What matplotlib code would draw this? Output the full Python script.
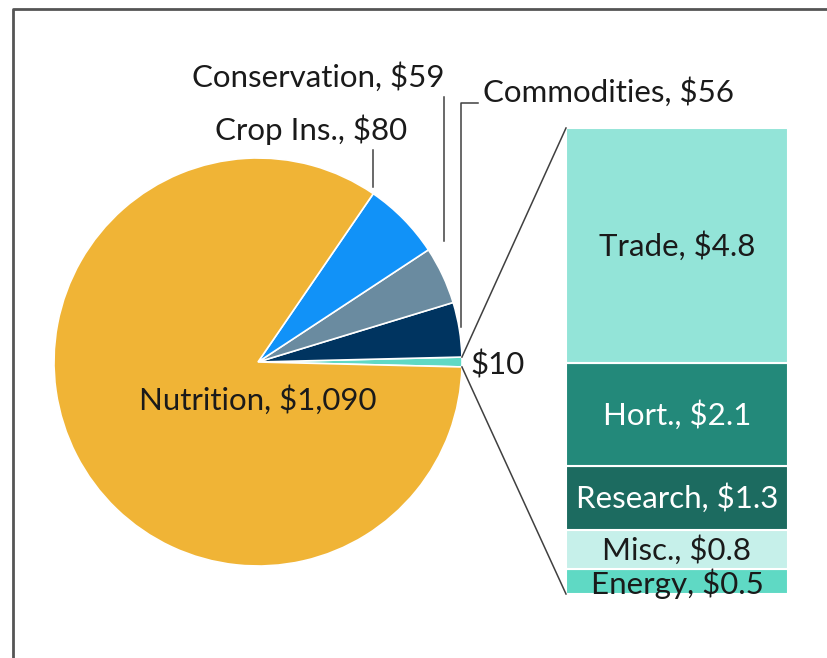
import numpy as np
import matplotlib
matplotlib.use("Agg")
import matplotlib.pyplot as plt

# pie: $ billions
pie_labels = ["Other", "Commodities", "Conservation", "Crop Ins.", "Nutrition"]
pie_values = [10, 56, 59, 80, 1090]
pie_colors = ["#5fd9c4", "#003460", "#6a8ba0", "#1192f8", "#f0b436"]

# breakout of "Other", top to bottom
bar_labels = ["Trade", "Hort.", "Research", "Misc.", "Energy"]
bar_values = [4.8, 2.1, 1.3, 0.8, 0.5]
bar_colors = ["#93e4d8", "#23897a", "#1c6b60", "#c6f0ea", "#5fd9c4"]
bar_text = ["#1a1a1a", "white", "white", "#1a1a1a", "#1a1a1a"]

W, H = 827, 658
FONT = "Lato"
FS = 22.5


def Y(y):
    return H - y


def main():
    fig = plt.figure(figsize=(W / 100, H / 100), dpi=100)
    ax = fig.add_axes([0, 0, 1, 1])

    # chart frame (only left and top edges show)
    ax.plot([13, 13, W + 5], [-5, Y(9), Y(9)], color="#555555", lw=2)

    cx, cy, r = 258, Y(362), 204
    total = sum(pie_values)
    start = -pie_values[0] / total * 360 / 2
    ax.pie(pie_values, colors=pie_colors, startangle=start, counterclock=True,
           center=(cx, cy), radius=r, frame=True,
           wedgeprops=dict(edgecolor="white", linewidth=1.2))
    ax.set_xlim(0, W)
    ax.set_ylim(0, H)
    ax.axis("off")

    # stacked bar for "Other"
    bx, bw = 677, 222
    scale = 466 / sum(bar_values)
    bottom = Y(594)
    for lab, v, c, tc in list(zip(bar_labels, bar_values, bar_colors, bar_text))[::-1]:
        h = v * scale
        ax.bar(bx, h, width=bw, bottom=bottom, color=c, edgecolor="white", linewidth=1.5)
        ty = bottom + h / 2
        if lab == "Energy":
            ty = bottom + h / 2 - 2
        ax.text(bx, ty, f"{lab}, ${v}", ha="center", va="center",
                fontsize=FS, color=tc, family=FONT)
        bottom += h
    bar_top = bottom

    # connector lines from the "Other" slice to the bar
    a = np.deg2rad(abs(start))
    ax.plot([cx + r * np.cos(a), bx - bw / 2], [cy + r * np.sin(a), bar_top],
            color="#404040", lw=1.1)
    ax.plot([cx + r * np.cos(a), bx - bw / 2], [cy - r * np.sin(a), Y(594)],
            color="#404040", lw=1.1)

    # labels
    tk = dict(fontsize=FS, color="#1a1a1a", family=FONT)
    ax.text(258, Y(400), "Nutrition, $1,090", ha="center", va="center", **tk)
    ax.text(311, Y(130), "Crop Ins., $80", ha="center", va="center", **tk)
    ax.text(318, Y(77), "Conservation, $59", ha="center", va="center", **tk)
    ax.text(483, Y(92), "Commodities, $56", ha="left", va="center", **tk)
    ax.text(470, Y(365), "$10", ha="left", va="center", **tk)

    # leader lines
    ax.plot([373, 373], [Y(150), Y(187)], color="#404040", lw=1.1)
    ax.plot([444, 444], [Y(97), Y(241)], color="#404040", lw=1.1)
    ax.plot([478, 461, 461], [Y(103), Y(103), Y(327)], color="#404040", lw=1.1)

    fig.savefig("out.png", dpi=100)


if __name__ == "__main__":
    main()
